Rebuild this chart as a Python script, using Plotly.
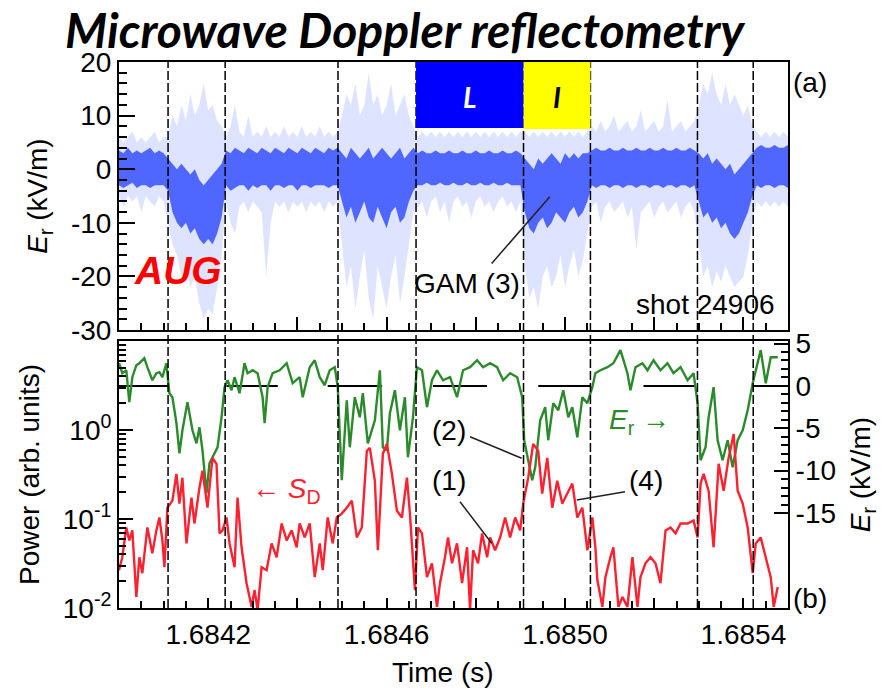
import numpy as np
import plotly.graph_objects as go

T0 = 1.6840  # s, left edge of the time axis

# ---------------- data ----------------
# dashed phase boundaries (s)
boundaries = [1.684110, 1.684238, 1.684491, 1.684666, 1.684907, 1.685057, 1.685297, 1.685422]

# (a) Er scatter cloud, described per 10-us bin: dense core and sparse envelope (kV/m)
cloud_step_us = 10
core_lo = ([-3, -3.5, -3, -2.5, -3.5, -3, -3, -3.5, -3, -3, -3] +
           [-4, -8, -10, -11, -10, -12, -11, -13, -14, -13, -14, -12, -9] +
           [-3, -4, -3.5, -3, -3, -4, -3, -3.5, -3, -3, -4, -3, -3, -3.5, -3, -3, -4, -3, -3, -3.5, -3, -3, -3, -3.5, -3, -3] +
           [-6, -9, -7, -10, -8, -6, -9, -10, -7, -9, -11, -8, -7, -10, -9, -6, -4] +
           [-3, -3, -2.5, -3, -3, -2.5, -3, -3, -2.5, -3, -3, -2.5, -3, -3, -2.5, -3, -3, -2.5, -3, -3, -2.5, -3, -3, -3] +
           [-8, -11, -12, -10, -9, -11, -10, -8, -9, -10, -8, -7, -9, -8, -6] +
           [-3, -3.5, -3, -3, -3.5, -3, -3, -3.5, -3, -3, -3.5, -3, -3, -3.5, -3, -3, -3.5, -3, -3, -3.5, -3, -3, -3.5, -3] +
           [-6, -9, -8, -10, -9, -11, -10, -12, -13, -12, -10, -8, -5] +
           [-3, -3.5, -3, -3, -3.5, -3, -3, -3.5])
core_hi = ([3.5, 3, 4, 3, 3.5, 3, 3.5, 4, 3, 3.5, 3] +
           [2, 1, 0, 1, 0, -1, 0, -2, -3, -2, -1, 0, 1] +
           [3.5, 3, 4, 3.5, 3, 4, 3.5, 3, 4, 3.5, 3, 4, 3.5, 3, 4, 3.5, 3, 4, 3.5, 3, 4, 3.5, 3, 4, 3.5, 4] +
           [3, 2, 4, 3, 2, 3, 4, 2, 3, 4, 3, 2, 3, 4, 2, 3, 4] +
           [3, 3.5, 3, 3, 3.5, 3, 3, 3.5, 3, 3, 3.5, 3, 3, 3.5, 3, 3, 3.5, 3, 3, 3.5, 3, 3, 3.5, 3] +
           [2, 1, 0, 2, 1, 2, 3, 2, 1, 3, 2, 3, 2, 3, 3] +
           [3.5, 4, 3.5, 3.5, 4, 3.5, 3.5, 4, 3.5, 3.5, 4, 3.5, 3.5, 4, 3.5, 3.5, 4, 3.5, 3.5, 4, 3.5, 3.5, 4, 3.5] +
           [3, 2, 3, 1, 2, 1, 0, 1, -1, 0, 1, 2, 3] +
           [4, 4.5, 4, 4, 4.5, 4, 4, 4.5])
outer_lo = ([-5, -7, -5, -6, -5, -8, -5, -6, -7, -5, -6] +
            [-10, -14, -16, -20, -18, -22, -20, -25, -28, -26, -27, -22, -16] +
            [-6, -10, -12, -7, -6, -8, -6, -7, -8, -20, -10, -6, -7, -6, -8, -6, -7, -6, -8, -6, -7, -6, -8, -6, -7, -6] +
            [-14, -22, -18, -26, -20, -15, -24, -28, -18, -22, -26, -20, -16, -25, -20, -14, -8] +
            [-7, -6, -9, -6, -5, -8, -6, -10, -6, -5, -7, -6, -9, -6, -5, -7, -6, -8, -6, -5, -7, -6, -8, -6] +
            [-18, -24, -22, -26, -20, -18, -22, -20, -16, -22, -18, -15, -20, -17, -12] +
            [-7, -6, -10, -7, -6, -8, -7, -6, -9, -7, -15, -8, -7, -6, -9, -7, -6, -8, -7, -6, -9, -7, -6, -8] +
            [-14, -20, -18, -22, -19, -21, -18, -20, -22, -21, -20, -16, -10] +
            [-6, -7, -6, -7, -6, -7, -6, -7])
outer_hi = ([6, 5, 6, 7, 5, 6, 5, 6, 7, 5, 6] +
            [6, 10, 8, 12, 9, 14, 10, 12, 16, 11, 12, 9, 8] +
            [6, 8, 12, 7, 6, 10, 6, 7, 6, 8, 6, 7, 6, 8, 6, 7, 6, 8, 6, 7, 6, 8, 6, 7, 6, 7] +
            [10, 14, 12, 16, 10, 12, 18, 12, 14, 10, 12, 16, 10, 12, 14, 10, 8] +
            [6, 7, 6, 7, 6, 7, 6, 7, 6, 7, 6, 7, 6, 7, 6, 7, 6, 7, 6, 7, 6, 7, 6, 7] +
            [7, 6, 7, 6, 7, 6, 7, 6, 7, 6, 7, 6, 7, 6, 7] +
            [8, 7, 9, 7, 8, 10, 7, 8, 9, 7, 8, 11, 7, 8, 9, 7, 8, 13, 7, 8, 9, 7, 8, 9] +
            [12, 16, 14, 18, 14, 12, 16, 12, 14, 12, 10, 12, 8] +
            [7, 6, 7, 6, 7, 6, 7, 6])

# (b) Er trace (kV/m, right axis); time offsets in microseconds from T0
er_t_us = [0, 7.4, 16.4, 23.1, 29.9, 38.9, 45.6, 56.8, 63.6, 74.8,
           83.8, 90.6, 97.3, 106.3, 108.5, 113.0, 119.8, 128.8, 135.5, 142.2,
           153.5, 164.7, 173.7, 180.4, 187.2, 196.2, 202.9, 209.6, 220.9, 229.9,
           236.6, 243.3, 252.3, 259.1, 270.3, 281.5, 288.3, 299.5, 310.8, 322.0,
           326.5, 333.2, 344.5, 360.2, 375.9, 389.4, 405.1, 411.9, 427.6, 438.8,
           450.1, 461.3, 472.5, 483.8, 490.5, 499.5, 510.7, 517.5, 528.7, 539.9,
           546.7, 557.9, 566.9, 573.7, 584.9, 591.6, 600.6, 607.4, 618.6, 629.8,
           641.1, 647.8, 659.1, 668.0, 679.3, 690.5, 701.7, 713.0, 726.5, 742.2,
           757.9, 771.4, 787.1, 802.9, 816.3, 832.1, 847.8, 861.3, 877.0, 892.8,
           904.0, 908.5, 917.5, 926.5, 933.2, 944.4, 955.7, 962.4, 973.7, 984.9,
           996.1, 1007.4, 1016.4, 1027.6, 1038.9, 1050.1, 1061.3, 1068.1, 1079.3, 1095.1,
           1108.5, 1124.3, 1140.0, 1146.7, 1158.0, 1173.7, 1184.9, 1198.4, 1214.1, 1229.8,
           1243.3, 1259.0, 1274.8, 1288.3, 1297.3, 1304.0, 1315.2, 1322.0, 1333.2, 1342.2,
           1353.4, 1364.7, 1375.9, 1387.1, 1398.4, 1409.6, 1420.9, 1432.1, 1438.8, 1450.1,
           1461.3, 1477.0]
er_vals = [2.68, 1.50, 1.85, -1.91, 1.03, 2.45, 2.68, 3.27, 2.21, 0.67,
           1.50, 1.62, 1.03, 2.68, 1.50, -0.86, -1.33, -4.40, -7.95, -5.23,
           -1.91, -5.23, -6.77, -4.88, -7.59, -12.66, -9.13, -8.42, -7.24, -3.70,
           -0.15, 0.67, -0.51, 1.03, -0.86, 2.68, 1.50, 1.85, 1.50, -1.33,
           -4.40, -0.15, 1.50, 1.85, 2.68, 0.32, 1.03, -1.33, 2.21, 3.03,
           1.03, 0.08, 1.85, 2.21, -0.15, -11.13, -1.69, -7.24, -1.33, -3.70,
           -0.86, -6.77, -5.23, -4.05, 1.85, -7.24, -7.59, -3.22, -0.51, -5.23,
           -1.33, -8.42, -3.70, 2.21, 1.85, -2.51, 0.67, 1.85, 0.67, 1.03,
           -1.33, 1.85, 2.21, 3.03, 2.21, 2.68, 2.21, 0.67, 1.50, 1.03,
           -1.33, -6.41, -8.77, -11.13, -9.60, -4.05, -2.51, -6.41, -2.04, -2.87,
           -0.51, -3.70, -2.51, -6.06, -1.33, -2.04, -0.15, 1.50, 1.85, 2.21,
           2.68, 4.22, 1.50, -0.51, 2.21, 2.68, 1.85, 3.03, 1.85, 2.68,
           1.50, 2.21, 0.67, 1.50, -2.04, -8.77, -7.24, -3.70, -0.15, -6.41,
           -8.77, -6.41, -9.60, -6.41, -5.23, -2.87, 0.32, 2.68, 4.22, 0.32,
           3.39, 3.39]

# (b) Doppler power S_D (arb. units, log left axis)
sd_t_us = [0, 7.4, 16.4, 23.1, 29.9, 38.9, 45.6, 52.3, 63.6, 74.8,
           83.8, 90.6, 97.3, 101.8, 108.5, 119.8, 128.8, 135.5, 142.2, 151.2,
           162.5, 169.2, 180.4, 187.2, 198.4, 209.6, 218.6, 225.4, 232.1, 241.1,
           247.9, 259.1, 265.8, 274.8, 286.0, 297.3, 304.0, 310.8, 319.7, 331.0,
           342.2, 353.4, 364.7, 375.9, 387.1, 398.4,
           405.1, 416.4, 427.6, 438.8, 450.1, 456.8, 468.0, 479.3, 488.3, 499.5,
           510.7, 522.0, 533.2, 544.4, 555.7, 562.4, 573.7, 580.4, 591.6, 600.6,
           611.9, 623.1, 634.3, 645.6, 652.3, 663.5, 670.3, 679.3, 690.5, 701.7,
           713.0, 719.7, 730.9, 737.7, 746.7, 757.9, 769.2, 780.4, 787.1, 793.9,
           805.1, 814.1, 825.4, 832.1, 843.3, 854.6, 865.8, 877.0, 888.3, 899.5,
           906.2, 917.5, 928.7, 939.9, 948.9, 960.2, 971.4, 982.6, 993.9, 1005.1,
           1016.4, 1027.6, 1038.9, 1050.1, 1061.3, 1068.1,
           1072.6, 1083.8, 1090.6, 1101.8, 1108.5, 1119.8, 1128.8, 1140.0, 1151.2, 1162.5,
           1169.2, 1180.4, 1191.7, 1202.9, 1214.1, 1225.4, 1236.6, 1247.9, 1259.0, 1274.8,
           1288.3, 1297.3, 1304.0, 1310.8, 1322.0, 1333.2, 1344.5, 1355.7, 1366.9, 1378.2,
           1387.1, 1398.4, 1409.6, 1420.9, 1427.6, 1438.8, 1450.1, 1461.3, 1468.0, 1477.0]
sd_vals = [.0266, .0372, .0804, .0575, .0745, .0133, .0372, .0246, .0804, .0412,
           .0745, .104, .0575, .0287, .134, .161, .322, .149, .291, .0532,
           .174, .0891, .225, .348, .134, .486, .417, .0689, .0745, .104,
           .0532, .0287, .174, .0481, .0190, .0103, .0159, .0095, .0287, .0266,
           .0532, .0372, .0891, .0575, .0745, .0481,
           .0891, .0621, .0891, .0222, .0532, .0266, .104, .0532, .104, .115,
           .134, .161, .0621, .0804, .582, .630, .269, .0445, .540, .698,
           .322, .124, .104, .291, .115, .0159, .0804, .0689, .0222, .0318,
           .0103, .0190, .0372, .0621, .0318, .0532, .0190, .0481, .0095, .0445,
           .0318, .0689, .0372, .0621, .0445, .0621, .104, .0621, .104, .0745,
           .149, .291, .698, .582, .193, .486, .134, .269, .149, .193,
           .250, .104, .134, .0445, .104, .0481,
           .0206, .0103, .0222, .0372, .0481, .0103, .0133, .0103, .0372, .0103,
           .0222, .0318, .0372, .0318, .0190, .0745, .0804, .0689, .0891, .0891,
           .0962, .0621, .250, .322, .208, .0481, .417, .208, .486, .902,
           .208, .149, .0804, .0246, .0532, .0621, .0372, .0222, .0103, .0172]

# Er = 0 reference segments (microseconds from T0)
zero_start_us = [0, 241, 468, 704, 940, 1176, 1421]
zero_end_us = [113, 356, 590, 825, 1057, 1293, 1500]

x_major = [1.6840, 1.6842, 1.6844, 1.6846, 1.6848, 1.6850, 1.6852, 1.6854]
x_labels = ["", "1.6842", "", "1.6846", "", "1.6850", "", "1.6854"]

# ---------------- derived arrays ----------------
us = 1e-6
cloud_t = T0 + np.arange(len(core_lo)) * cloud_step_us * us
er_t = T0 + np.array(er_t_us) * us
sd_t = T0 + np.array(sd_t_us) * us
zx, zy = [], []
for a, b in zip(zero_start_us, zero_end_us):
    zx += [T0 + a * us, T0 + b * us, None]
    zy += [0, 0, None]

FONT = "Liberation Sans, Arial, Helvetica, sans-serif"
FS = 28
BLUE_CORE = "rgba(25,55,255,0.72)"
BLUE_OUT = "rgba(70,100,255,0.18)"
GREEN = "#2b8a2b"
RED = "#ff2030"

fig = go.Figure()

# top panel cloud
fig.add_trace(go.Scatter(x=cloud_t, y=outer_lo, mode="lines", line=dict(width=0),
                         xaxis="x", yaxis="y", hoverinfo="skip"))
fig.add_trace(go.Scatter(x=cloud_t, y=outer_hi, mode="lines", line=dict(width=0),
                         fill="tonexty", fillcolor=BLUE_OUT, xaxis="x", yaxis="y"))
fig.add_trace(go.Scatter(x=cloud_t, y=core_lo, mode="lines", line=dict(width=0),
                         xaxis="x", yaxis="y", hoverinfo="skip"))
fig.add_trace(go.Scatter(x=cloud_t, y=core_hi, mode="lines", line=dict(width=0),
                         fill="tonexty", fillcolor=BLUE_CORE, xaxis="x", yaxis="y"))

# bottom panel
fig.add_trace(go.Scatter(x=zx, y=zy, mode="lines", line=dict(color="black", width=2),
                         xaxis="x2", yaxis="y2"))
fig.add_trace(go.Scatter(x=er_t, y=er_vals, mode="lines", line=dict(color=GREEN, width=2.4),
                         xaxis="x2", yaxis="y2"))
fig.add_trace(go.Scatter(x=sd_t, y=sd_vals, mode="lines", line=dict(color=RED, width=2.4),
                         xaxis="x2", yaxis="y3"))

ax_common = dict(showline=True, linecolor="black", linewidth=2, showgrid=False,
                 zeroline=False, ticks="inside", tickcolor="black", tickwidth=1.5,
                 automargin=False,
                 tickfont=dict(family=FONT, size=FS, color="black"))

DOM_TOP = [0.509, 1.0]
DOM_BOT = [0.0, 0.489]
XR = [1.6840, 1.6855]

fig.update_layout(
    width=881, height=690,
    margin=dict(l=119, r=93, t=62, b=82),
    paper_bgcolor="white", plot_bgcolor="white",
    showlegend=False,
    font=dict(family=FONT, size=FS, color="black"),
    xaxis=dict(ax_common, domain=[0, 1], anchor="y", range=XR, mirror=True,
               tickvals=x_major, showticklabels=False, ticklen=13,
               minor=dict(ticks="inside", ticklen=7, tick0=T0, dtick=0.00005, tickcolor="black")),
    yaxis=dict(ax_common, domain=DOM_TOP, anchor="x", range=[-30, 20], mirror=True,
               tickvals=[-30, -20, -10, 0, 10, 20],
               ticktext=["-30", "-20", "-10", "0", "10", "20"], ticklen=16,
               minor=dict(ticks="inside", ticklen=8, dtick=2, tickcolor="black"),
               title=dict(text="<i>E</i><sub>r</sub> (kV/m)", font=dict(family=FONT, size=FS))),
    xaxis2=dict(ax_common, domain=[0, 1], anchor="y2", range=XR, mirror=True,
                tickvals=x_major, ticktext=x_labels, ticklen=10,
                minor=dict(ticks="inside", ticklen=7, tick0=T0, dtick=0.00005, tickcolor="black")),
    yaxis2=dict(ax_common, domain=DOM_BOT, anchor="x2", side="right", range=[-26.2, 5.3],
                tickvals=[-15, -10, -5, 0, 5], ticktext=["-15", "-10", "-5", "0", "5"],
                ticklen=14, mirror=True,
                minor=dict(ticks="inside", ticklen=7, tickvals=list(range(-15, 6)), tickcolor="black"),
                title=dict(text="<i>E</i><sub>r</sub> (kV/m)", font=dict(family=FONT, size=FS))),
    yaxis3=dict(ax_common, overlaying="y2", anchor="x2", side="left", type="log", range=[-2, 1],
                tickvals=[0.01, 0.1, 1], ticktext=["10<sup>-2</sup>", "10<sup>-1</sup>", "10<sup>0</sup>"],
                ticklen=14,
                minor=dict(ticks="inside", ticklen=7, tickcolor="black",
                           tickvals=[k * 10.0 ** e for e in (-2, -1, 0) for k in range(2, 10)]),
                title=dict(text="Power (arb. units)", font=dict(family=FONT, size=FS))),
)

shapes = []
for b in boundaries:
    shapes.append(dict(type="line", xref="x", yref="paper", x0=b, x1=b, y0=0, y1=1,
                       line=dict(color="black", width=1.5, dash="9px,3px")))
shapes.append(dict(type="rect", xref="x", yref="y", x0=boundaries[3], x1=boundaries[4],
                   y0=7.7, y1=20, fillcolor="#0000ff", line=dict(width=0)))
shapes.append(dict(type="rect", xref="x", yref="y", x0=boundaries[4], x1=boundaries[5],
                   y0=7.5, y1=20, fillcolor="#ffff00", line=dict(width=0)))

def pline(x0, y0, x1, y1):
    return dict(type="line", xref="paper", yref="paper", x0=x0, y0=y0, x1=x1, y1=y1,
                line=dict(color="#222222", width=1.5))

shapes += [pline(0.557, 0.631, 0.644, 0.753),   # GAM (3)
           pline(0.5247, 0.3137, 0.6019, 0.2742),  # (2)
           pline(0.5097, 0.1947, 0.5571, 0.1185),  # (1)
           pline(0.7564, 0.2130, 0.6842, 0.1978)]  # (4)
fig.update_layout(shapes=shapes)

def ann(text, x, y, size=FS, color="black", family=FONT, xref="paper", yref="paper"):
    return dict(text=text, x=x, y=y, xref=xref, yref=yref, showarrow=False,
                xanchor="center", yanchor="middle",
                font=dict(family=family, size=size, color=color))

mid_L = boundaries[3] + (boundaries[4] - boundaries[3]) / 2
mid_I = boundaries[4] + (boundaries[5] - boundaries[4]) / 2
fig.update_layout(annotations=[
    ann("<b><i>Microwave Doppler reflectometry</i></b>", 0.4275, 1.0604, size=48,
        family="Lato, Open Sans, sans-serif"),
    ann("<b><i>L</i></b>", mid_L, 13.5, size=28, color="white", family="Lato, sans-serif", xref="x", yref="y"),
    ann("<b><i>I</i></b>", mid_I, 13.5, size=28, color="black", family="Lato, sans-serif", xref="x", yref="y"),
    ann("<b><i>AUG</i></b>", 0.0882, 0.619, size=39, color="#ff0000"),
    ann("GAM (3)", 0.5209, 0.5952),
    ann("shot 24906", 0.8774, 0.555),
    ann("(a)", 1.0329, 0.963),
    ann("(b)", 1.0329, 0.0183),
    ann("(2)", 0.4933, 0.326),
    ann("(1)", 0.4933, 0.2344),
    ann("(4)", 0.7877, 0.2344),
    ann("<i>E</i><sub>r</sub> \u2192", 0.7773, 0.3407, color=GREEN),
    ann("\u2190 <i>S</i><sub>D</sub>", 0.2511, 0.2161, color=RED),
    ann("Time (s)", 0.4843, -0.119),
])

fig.write_html("out.html")
